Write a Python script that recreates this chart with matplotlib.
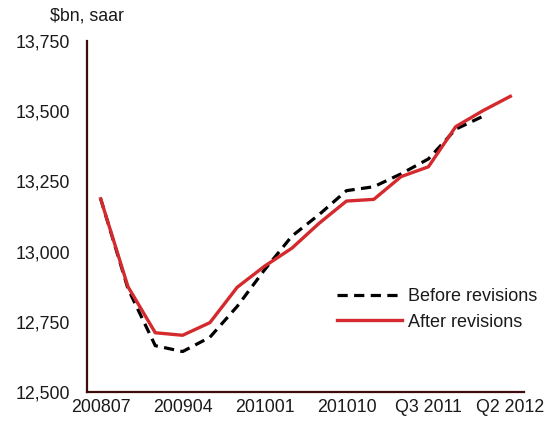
import numpy as np
import matplotlib
matplotlib.use("Agg")
from matplotlib import pyplot as plt

plt.rcParams['font.family'] = ['Liberation Sans', 'DejaVu Sans']

# quarterly, 2008Q3 .. 2012Q2
quarters = ["200807", "200810", "200901", "200904", "200907", "200910",
            "201001", "201004", "201007", "201010", "201101", "201104",
            "Q3 2011", "Q4 2011", "Q1 2012", "Q2 2012"]
after_rev = [13188, 12875, 12711, 12702, 12747, 12873, 12948, 13012,
             13101, 13180, 13186, 13267, 13302, 13445, 13502, 13553]
before_rev = [13188, 12868, 12665, 12644, 12695, 12805, 12935, 13055,
              13132, 13217, 13231, 13277, 13330, 13436, 13482]
tick_every = 3
yticks = [12500, 12750, 13000, 13250, 13500, 13750]

red = "#D42A2E"
spine_col = "#3E0B0B"

fig = plt.figure(figsize=(5.47, 4.21), dpi=100)
ax = fig.add_axes([87/547, 1 - 392/421, 437/547, 351/421])

x = np.arange(len(quarters))
ax.plot(x[:len(before_rev)], before_rev, color="black", lw=2.3,
        dashes=(3.2, 2.0), label="Before revisions", zorder=2)
ax.plot(x, after_rev, color=red, lw=2.4, label="After revisions", zorder=3)

ax.set_xlim(-0.5, len(quarters) - 0.5)
ax.set_ylim(12500, 13750)
ax.set_yticks(yticks)
ax.set_yticklabels([f"{v:,}" for v in yticks])
ax.set_xticks(x[::tick_every])
ax.set_xticklabels(quarters[::tick_every])

for s in ["top", "right"]:
    ax.spines[s].set_visible(False)
for s in ["left", "bottom"]:
    ax.spines[s].set_color(spine_col)
    ax.spines[s].set_linewidth(1.6)

ax.tick_params(axis="y", length=0, pad=12, labelsize=12.8, colors="#1a1a1a")
ax.tick_params(axis="x", length=0, pad=5, labelsize=12.8, colors="#1a1a1a")

leg = ax.legend(loc="upper left", bbox_to_anchor=(0.572, 0.295), frameon=False,
                fontsize=13, handlelength=3.6, handletextpad=0.35,
                borderpad=0, borderaxespad=0, labelspacing=0.45)
for t in leg.get_texts():
    t.set_color("#1a1a1a")

fig.text(87/547, 1 - 16/421, "\\$bn, saar", ha="center", va="center",
         fontsize=12.8, color="#1a1a1a")

fig.savefig("out.png", dpi=100)
